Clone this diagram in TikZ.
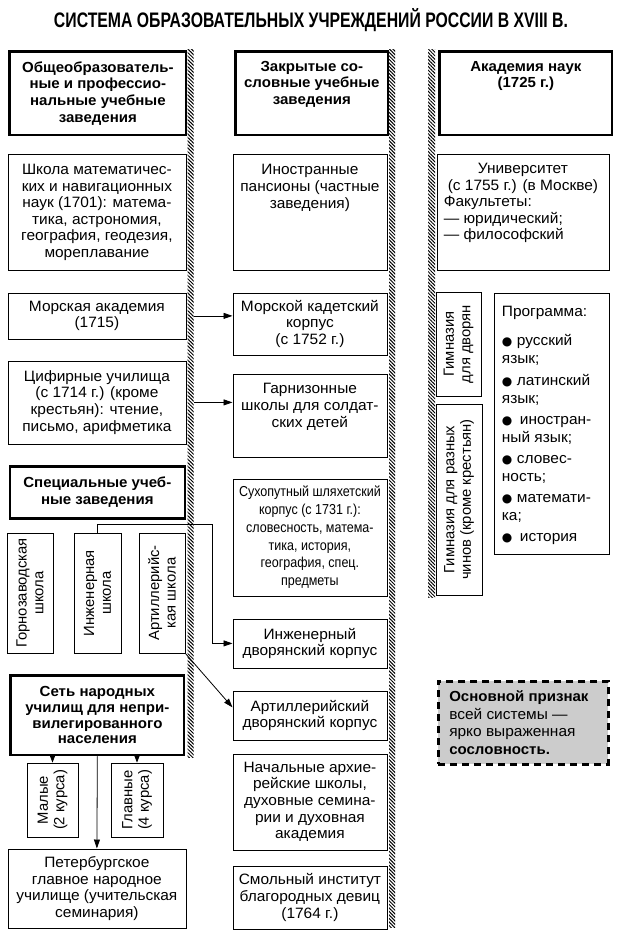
\documentclass[tikz,border=0pt]{standalone}
\usepackage{fontspec}
\setmainfont[FakeStretch=1.03]{Liberation Sans}
\newfontfamily\plainf{Liberation Sans}
\newfontfamily\condf[FakeStretch=0.87]{Liberation Sans}
\newfontfamily\dvf{DejaVu Sans}
\usepackage{graphicx}
\usetikzlibrary{arrows.meta,patterns.meta}
\newcommand\bx[8]{\node[#1, anchor=north west, inner sep=0pt] (#2) at (#3,#4) {\parbox[c][#6pt][#7]{#5pt}{\centering #8}};}
\newcommand\bul{{\dvf\fontsize{12}{12}\selectfont ●}}
\newcommand\itm[2]{\hangindent=15pt\hangafter=1\makebox[15pt][l]{\bul}#1\\#2\par\vspace{3.2pt}}
\tikzset{
  box/.style={draw, line width=0.8pt},
  hbox/.style={draw, line width=2.6pt, font=\fontsize{14.6}{16.8}\selectfont\bfseries},
  hatch/.style={pattern={Lines[angle=-45,distance=2.5pt,line width=1pt]}, inner sep=0pt, anchor=north west},
  arr/.style={line width=0.8pt, -{Triangle[length=9pt,width=6pt]}},
  vbox/.style={draw, line width=0.8pt, inner sep=0pt, font=\plainf\fontsize{14.8}{16.6}\selectfont},
}
\begin{document}
\begin{tikzpicture}[x=1pt,y=-1pt,font=\fontsize{15}{16.6}\selectfont]
\useasboundingbox (0,0) rectangle (624,936);
% title
\node[anchor=base, inner sep=0pt] (title) at (311,28) {\resizebox{514pt}{\height}{\fontsize{21}{21}\selectfont\bfseries СИСТЕМА ОБРАЗОВАТЕЛЬНЫХ УЧРЕЖДЕНИЙ РОССИИ В XVIII~В.}};
% hatches
\node[hatch, minimum width=6, minimum height=708] (hL) at (187,49) {};
\node[hatch, minimum width=6, minimum height=878] (hM) at (389,49) {};
\node[hatch, minimum width=7, minimum height=548] (hR) at (428,49) {};
% headers
\bx{hbox}{h1}{8.3}{50.3}{176.5}{83.5}{c}{Общеобразователь-\\ные и профессио-\\нальные учебные\\заведения}
\bx{hbox}{h2}{234.3}{50.3}{152.5}{83.5}{t}{\rule{0pt}{19.5pt}Закрытые со-\\словные учебные\\заведения}
\bx{hbox}{h3}{438.3}{50.3}{172.5}{83.5}{t}{\rule{0pt}{19.5pt}Академия наук\\(1725~г.)}
% left column
\bx{box}{shk}{7.5}{154.5}{178}{115}{c}{Школа математичес-\\ких и навигационных\\наук (1701): матема-\\тика, астрономия,\\география, геодезия,\\мореплавание}
\bx{box}{morak}{7.5}{292.5}{178}{46}{c}{Морская академия\\(1715)}
\bx{box}{cif}{7.5}{360.5}{178}{83}{c}{Цифирные училища\\(с 1714~г.) (кроме\\крестьян): чтение,\\письмо, арифметика}
\bx{hbox}{spec}{8.5}{465}{175}{52}{c}{Специальные учеб-\\ные заведения}
\node[vbox, minimum width=46, minimum height=120] (gorn) at (30,593) {\rotatebox{90}{\parbox{118pt}{\centering Горнозаводская\\школа}}};
\node[vbox, minimum width=47, minimum height=120] (inzh) at (97.5,593) {\rotatebox{90}{\parbox{118pt}{\centering Инженерная\\школа}}};
\node[vbox, minimum width=46, minimum height=120] (art) at (162,593) {\rotatebox{90}{\parbox{118pt}{\centering Артиллерийс-\\кая школа}}};
\bx{hbox, font=\fontsize{14.6}{15.6}\selectfont\bfseries}{set}{9.3}{674.3}{173.5}{79.5}{c}{Сеть народных\\училищ для непри-\\вилегированного\\населения}
\node[vbox, minimum width=51, minimum height=74] (male) at (52.5,800) {\rotatebox{90}{\parbox{72pt}{\centering Малые\\(2 курса)}}};
\node[vbox, minimum width=52, minimum height=74] (glav) at (137,800) {\rotatebox{90}{\parbox{72pt}{\centering Главные\\(4 курса)}}};
\bx{box}{peter}{7.5}{848.5}{178}{79}{c}{Петербургское\\главное народное\\училище (учительская\\семинария)}
% middle column
\bx{box}{inos}{232.5}{154.5}{154}{115}{t}{\rule{0pt}{20pt}Иностранные\\пансионы (частные\\заведения)}
\bx{box}{morkad}{232.5}{292.5}{154}{62}{c}{Морской кадетский\\корпус\\(с 1752~г.)}
\bx{box}{garn}{232.5}{373.5}{154}{83}{t}{\rule{0pt}{20pt}Гарнизонные\\школы для солдат-\\ских детей}
\bx{box, font=\condf\fontsize{14.4}{17.8}\selectfont}{sukh}{232.5}{478.5}{154}{117}{c}{Сухопутный шляхетский\\корпус (с 1731~г.):\\словесность, матема-\\тика, история,\\география, спец.\\предметы}
\bx{box}{inzhk}{232.5}{618.5}{154}{49}{c}{Инженерный\\дворянский корпус}
\bx{box}{artk}{232.5}{690.5}{154}{49}{c}{Артиллерийский\\дворянский корпус}
\bx{box}{nach}{232.5}{753.5}{154}{96}{c}{Начальные архие-\\рейские школы,\\духовные семина-\\рии и духовная\\академия}
\bx{box}{smol}{232.5}{865.5}{154}{63}{c}{Смольный институт\\благородных девиц\\(1764~г.)}
% right column
\bx{box}{univ}{436.5}{154.5}{172}{115}{t}{\rule{0pt}{18.5pt}Университет\\(с 1755~г.) (в Москве)\par\raggedright\leftskip=7pt\relax Факультеты:\\— юридический;\\— философский}
\node[vbox, minimum width=45, minimum height=104] (gimdv) at (458.5,344) {\rotatebox{90}{\parbox{102pt}{\centering Гимназия\\для дворян}}};
\node[vbox, minimum width=46, minimum height=191] (gimraz) at (459,499.5) {\rotatebox{90}{\parbox{189pt}{\centering Гимназия для разных\\чинов (кроме крестьян)}}};
\node[box, anchor=north west, inner sep=0pt, font=\fontsize{15}{18}\selectfont] (prog) at (493.5,292.5) {\parbox[c][261pt][t]{115pt}{\raggedright\leftskip=8pt\relax\rule{0pt}{23.5pt}Программа:\par\vspace{11.5pt}%
\itm{русский}{язык;}%
\itm{латинский}{язык;}%
\itm{\hspace{3pt}иностран-}{ный язык;}%
\itm{словес-}{ность;}%
\itm{математи-}{ка;}%
\makebox[15pt][l]{\bul}\hspace{3pt}история}};
\node[draw, line width=3.5pt, dash pattern=on 7pt off 5pt, fill=gray!40, anchor=north west, inner sep=0pt, font=\fontsize{15}{17.7}\selectfont] (osn) at (436.5,679.5) {\parbox[c][83pt][c]{170pt}{\raggedright\leftskip=11pt\relax{\fontsize{14.6}{17.7}\selectfont\bfseries Основной признак}\\всей системы —\\ярко выраженная\\{\fontsize{14.6}{17.7}\selectfont\bfseries сословность.}}};
% connectors
\draw[arr] (morak.east -| hL.east) -- (morak.east -| morkad.west);
\draw[arr] (cif.east -| hL.east) -- (cif.east -| garn.west);
\coordinate (bend) at (212,524);
\draw[arr] (inzh.north) |- (bend) |- (inzhk.west);
\draw[arr] (art.south east) -- ([yshift=8pt]artk.west);
\draw[arr, -{Triangle[length=8pt,width=6pt]}] (male.north |- set.south) -- (male.north);
\draw[arr, -{Triangle[length=8pt,width=6pt]}] (glav.north |- set.south) -- (glav.north);
\draw[arr] (set.south) -- (peter.north);
\end{tikzpicture}
\end{document}
